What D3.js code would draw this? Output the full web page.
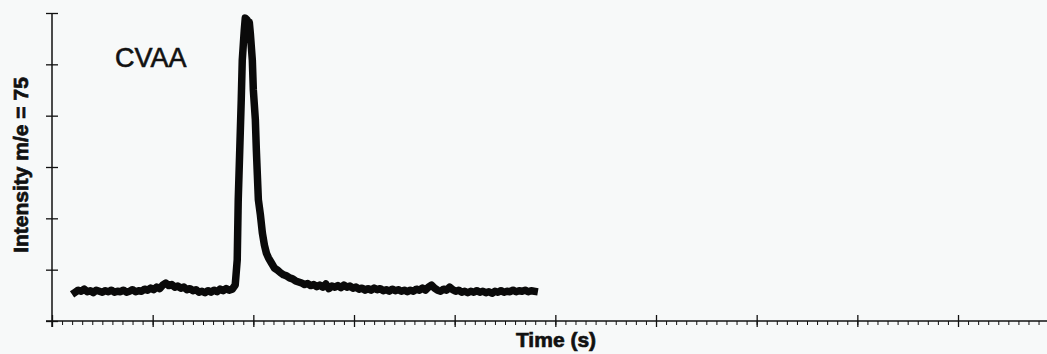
<!DOCTYPE html>
<html>
<head>
<meta charset="utf-8">
<script src="https://cdn.jsdelivr.net/npm/d3@7"></script>
<style>
  html, body { margin: 0; padding: 0; background: #f7f9f9; }
  svg { display: block; }
</style>
</head>
<body>
<div id="chart"></div>
<script>
// trace: time (s) and intensity (arbitrary units)
const time = [
  23, 26, 29, 32, 35, 38, 41, 44, 47, 50, 53, 56, 59, 62, 65, 68, 71, 74, 77, 80,
  83, 86, 89, 92, 95, 98, 101, 104, 107, 110, 113, 116, 119, 122, 125, 128, 131, 134, 137, 140,
  143, 146, 149, 152, 155, 158, 161, 164, 167, 170, 173, 176, 179,
  182, 184, 185, 186.5, 188, 189, 191, 192, 194, 195, 196, 197, 199, 200, 202, 203, 204, 205,
  207, 209, 211, 213, 215, 218, 221, 224, 227, 230, 233, 236, 239, 242, 245,
  248, 251, 254, 257, 260, 263, 266, 269, 272, 275, 278, 281, 284, 287, 290, 293, 296, 299,
  302, 305, 308, 311, 314, 317, 320, 323, 326, 329, 332, 335, 338, 341, 344, 347, 350, 353,
  356, 359, 362, 365, 368, 371, 374, 377, 380, 383, 386, 389, 392, 395, 398, 401, 404, 407,
  410, 413, 416, 419, 422, 425, 428, 431, 434, 437, 440, 443, 446, 449, 452, 455, 458, 461,
  464, 467, 470, 473, 476, 479
];
const intensity = [
  0.56, 0.60, 0.58, 0.62, 0.57, 0.59, 0.55, 0.60, 0.58, 0.56, 0.59, 0.57, 0.60, 0.56, 0.58, 0.57, 0.60, 0.56, 0.58, 0.61,
  0.57, 0.59, 0.58, 0.62, 0.60, 0.64, 0.61, 0.66, 0.63, 0.70, 0.74, 0.69, 0.71, 0.66, 0.68, 0.64, 0.66, 0.61, 0.63, 0.59,
  0.61, 0.56, 0.58, 0.55, 0.59, 0.56, 0.60, 0.57, 0.62, 0.59, 0.63, 0.60, 0.62,
  0.70, 1.19, 2.36, 3.33, 4.31, 5.08, 5.67, 5.90, 5.86, 5.71, 5.82, 5.61, 5.08, 4.50, 3.92, 3.33, 2.84, 2.36,
  2.07, 1.71, 1.48, 1.32, 1.23, 1.13, 1.03, 0.99, 0.94, 0.90, 0.88, 0.84, 0.82, 0.78, 0.76,
  0.74, 0.71, 0.73, 0.69, 0.71, 0.67, 0.70, 0.66, 0.72, 0.63, 0.68, 0.66, 0.69, 0.65, 0.70, 0.66, 0.68, 0.64,
  0.66, 0.62, 0.64, 0.60, 0.63, 0.60, 0.64, 0.61, 0.63, 0.59, 0.61, 0.58, 0.62, 0.59, 0.61, 0.58, 0.60, 0.57,
  0.60, 0.58, 0.62, 0.60, 0.64, 0.60, 0.66, 0.70, 0.64, 0.60, 0.58, 0.62, 0.60, 0.66, 0.61, 0.58, 0.60, 0.56,
  0.58, 0.55, 0.58, 0.56, 0.59, 0.56, 0.58, 0.55, 0.57, 0.54, 0.58, 0.56, 0.59, 0.56, 0.58, 0.57, 0.60, 0.57,
  0.59, 0.58, 0.60, 0.57, 0.59, 0.58
];
const yTicks = [0, 1, 2, 3, 4, 5, 6];
const xMajor = [0, 100, 200, 300, 400, 500, 600, 700, 800, 900];
const xMinor = d3.range(0, 990, 10);

const width = 1047;
const height = 354;
const margin = { top: 13, right: 0, bottom: 33, left: 52 };

const svg = d3.select("#chart")
  .append("svg")
  .attr("width", width)
  .attr("height", height);

const x = d3.scaleLinear()
  .domain([0, 988.4])
  .range([margin.left, width - margin.right]);

const y = d3.scaleLinear()
  .domain([0, 6])
  .range([height - margin.bottom, margin.top]);

// minor ticks on time axis (below the line only)
svg.append("g")
  .attr("transform", "translate(0," + y(0) + ")")
  .call(d3.axisBottom(x).tickValues(xMinor).tickSize(4).tickFormat(""))
  .call(g => g.select(".domain").remove())
  .call(g => g.selectAll(".tick line").attr("stroke", "#111").attr("stroke-width", 1));

// major ticks cross the line
const xAxis = svg.append("g")
  .attr("transform", "translate(0," + y(0) + ")")
  .call(d3.axisBottom(x).tickValues(xMajor).tickSizeOuter(0).tickFormat(""));
xAxis.selectAll(".tick line").attr("y1", -6).attr("y2", 6).attr("stroke", "#111").attr("stroke-width", 1.3);
xAxis.select(".domain").attr("d", "M" + (x(0) - 6) + ",0H" + x.range()[1]).attr("stroke", "#111").attr("stroke-width", 1.5);

const yAxis = svg.append("g")
  .attr("transform", "translate(" + x(0) + ",0)")
  .call(d3.axisLeft(y).tickValues(yTicks).tickSizeOuter(0).tickFormat(""));
yAxis.selectAll(".tick line").attr("x1", -6).attr("x2", 6).attr("stroke", "#111").attr("stroke-width", 1.3);
yAxis.select(".domain").attr("d", "M0," + y(6) + "V" + (y(0) + 6)).attr("stroke", "#111").attr("stroke-width", 1.5);

// the trace
const pts = time.map((t, i) => [t, intensity[i]]);
svg.append("path")
  .datum(pts)
  .attr("fill", "none")
  .attr("stroke", "#0a0a0a")
  .attr("stroke-width", 7.5)
  .attr("stroke-linejoin", "round")
  .attr("stroke-linecap", "square")
  .attr("d", d3.line().x(d => x(d[0])).y(d => y(d[1])));

// labels
svg.append("text")
  .attr("x", 115)
  .attr("y", 67)
  .attr("font-family", "Liberation Sans, Arial, sans-serif")
  .attr("font-size", 27)
  .attr("fill", "#111")
  .attr("stroke", "#111")
  .attr("stroke-width", 0.6)
  .text("CVAA");

svg.append("text")
  .attr("transform", "translate(28,165) rotate(-90)")
  .attr("text-anchor", "middle")
  .attr("font-family", "Liberation Sans, Arial, sans-serif")
  .attr("font-weight", "bold")
  .attr("font-size", 21)
  .attr("fill", "#111")
  .attr("stroke", "#111")
  .attr("stroke-width", 0.7)
  .text("Intensity m/e = 75");

svg.append("text")
  .attr("x", 556)
  .attr("y", 347)
  .attr("text-anchor", "middle")
  .attr("font-family", "Liberation Sans, Arial, sans-serif")
  .attr("font-weight", "bold")
  .attr("font-size", 21)
  .attr("fill", "#111")
  .attr("stroke", "#111")
  .attr("stroke-width", 0.7)
  .text("Time (s)");
</script>
</body>
</html>
